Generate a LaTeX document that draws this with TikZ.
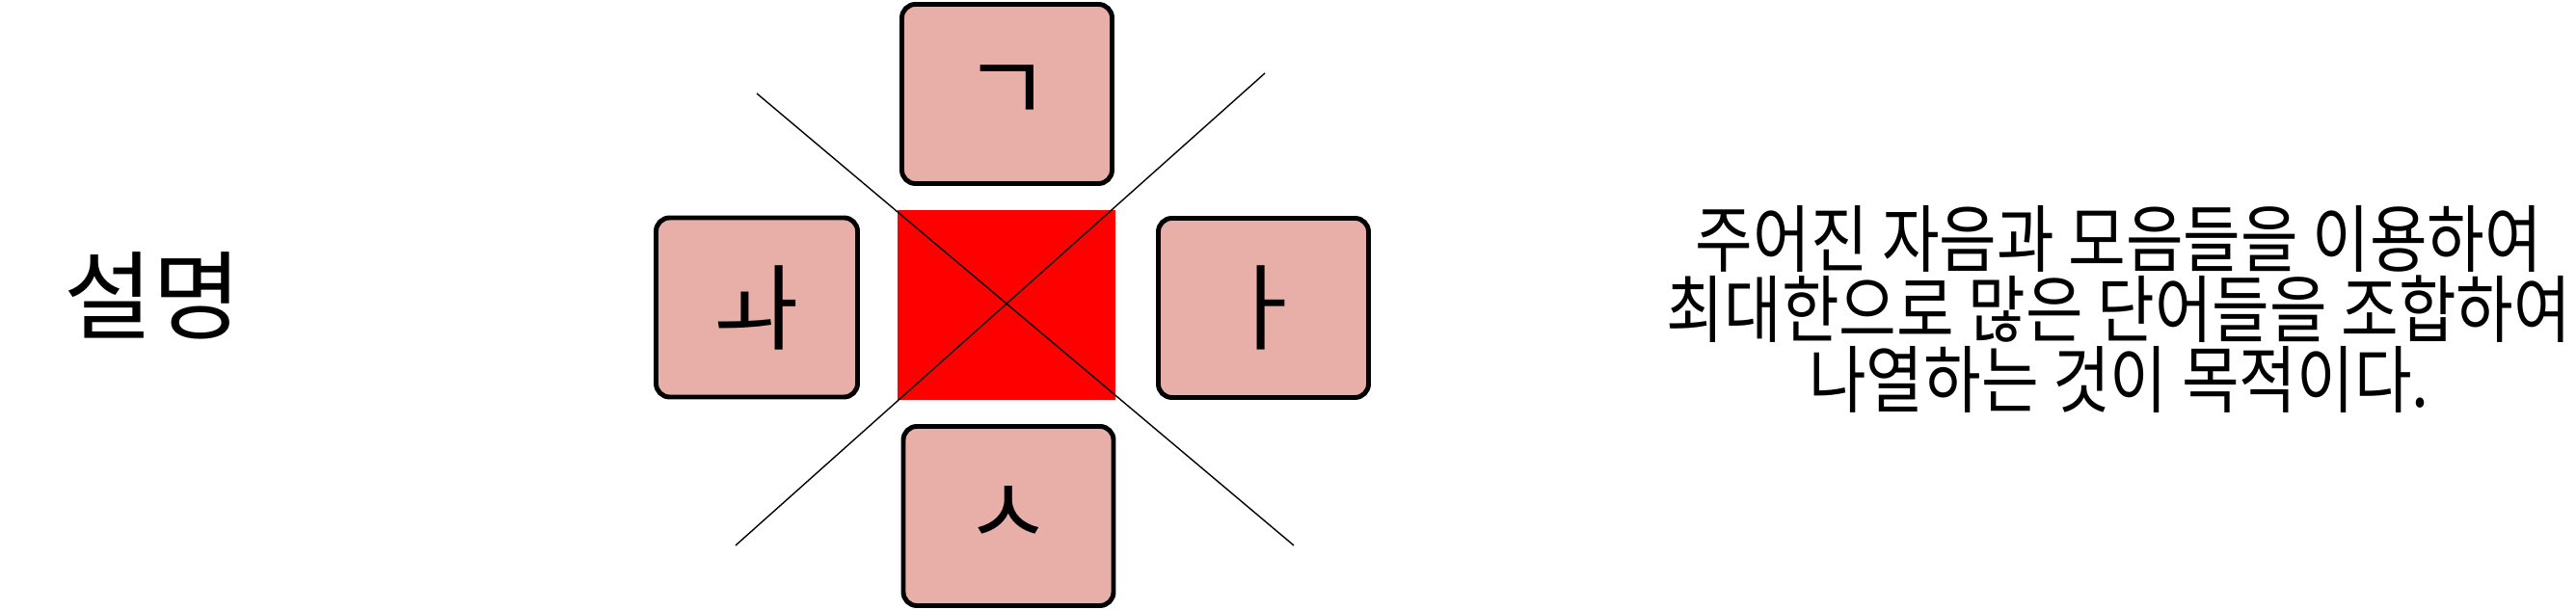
\documentclass[tikz,border=0pt]{standalone}
\usepackage{fontspec}
\setmainfont{Noto Sans CJK KR}
\newfontfamily\narrowkr[FakeStretch=0.85]{Noto Sans CJK KR}
\definecolor{keypink}{HTML}{E8AFA9}

\begin{document}
\begin{tikzpicture}[line width=1.4pt,
    jamokey/.style={rectangle,rounded corners=0.14cm,draw=black,fill=keypink,minimum width=2.18cm,minimum height=1.86cm,inner sep=0pt,font=\fontsize{28}{28}\selectfont},
    centerpad/.style={rectangle,fill=red,minimum width=2.26cm,minimum height=1.97cm,inner sep=0pt},
    guide/.style={line width=0.4pt,draw=black}]
  \path[use as bounding box] (0,0) rectangle (26.72,6.33);
  \path
  (1.59,3.26) node [font=\fontsize{28.5}{28.5}\selectfont] (title) {설명}

  (10.44,3.165) node [centerpad] (pad) {}
  (10.445,5.355) node [jamokey] (giyeok) {ㄱ}
  (7.85,3.14) node [jamokey,minimum width=2.09cm] (wa) {ㅘ}
  (13.105,3.135) node [jamokey] (a) {ㅏ}
  (10.46,0.975) node [jamokey] (siot) {ㅅ}

  (21.98,3.12) node [align=center,font=\narrowkr\fontsize{21.7}{18.7}\selectfont] (desc)
    {주어진 자음과 모음들을 이용하여\\최대한으로 많은 단어들을 조합하여\\나열하는 것이 목적이다.}
  ;
  \coordinate (nw) at (7.85,5.36);
  \coordinate (se) at (13.42,0.67);
  \coordinate (ne) at (13.12,5.57);
  \coordinate (sw) at (7.63,0.67);
  \draw[guide] (nw) -- (se);
  \draw[guide] (ne) -- (sw);
\end{tikzpicture}
\end{document}
